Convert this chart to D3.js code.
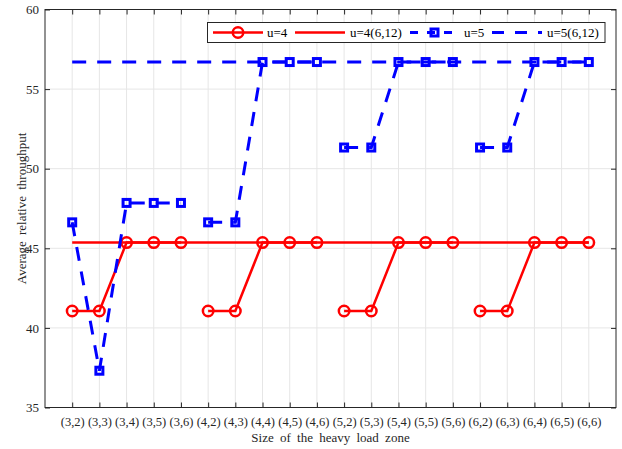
<!DOCTYPE html>
<html>
<head>
<meta charset="utf-8">
<script src="https://cdn.jsdelivr.net/npm/d3@7"></script>
<style>
  html, body { margin: 0; padding: 0; background: #fff; }
  svg { display: block; font-family: "Liberation Serif", "Times New Roman", serif; }
</style>
</head>
<body>
<svg id="chart" width="622" height="449"></svg>
<script>
// Zone sizes on the x axis
const categories = ["(3,2)","(3,3)","(3,4)","(3,5)","(3,6)",
                    "(4,2)","(4,3)","(4,4)","(4,5)","(4,6)",
                    "(5,2)","(5,3)","(5,4)","(5,5)","(5,6)",
                    "(6,2)","(6,3)","(6,4)","(6,5)","(6,6)"];

// Average relative throughput per series
const u4 = [41.06, 41.06, 45.36, 45.36, 45.36,
            41.06, 41.06, 45.36, 45.36, 45.36,
            41.06, 41.06, 45.36, 45.36, 45.36,
            41.06, 41.06, 45.36, 45.36, 45.36];
const u4ref = [45.36, 45.36, 45.36, 45.36, 45.36,
               45.36, 45.36, 45.36, 45.36, 45.36,
               45.36, 45.36, 45.36, 45.36, 45.36,
               45.36, 45.36, 45.36, 45.36, 45.36];
const u5 = [46.63, 37.31, 47.85, 47.85, 47.85,
            46.63, 46.63, 56.70, 56.70, 56.70,
            51.33, 51.33, 56.70, 56.70, 56.70,
            51.33, 51.33, 56.70, 56.70, 56.70];
const u5ref = [56.70, 56.70, 56.70, 56.70, 56.70,
               56.70, 56.70, 56.70, 56.70, 56.70,
               56.70, 56.70, 56.70, 56.70, 56.70,
               56.70, 56.70, 56.70, 56.70, 56.70];

const yTicks = [35, 40, 45, 50, 55, 60];
const legendLabels = ["u=4", "u=4(6,12)", "u=5", "u=5(6,12)"];

const RED = "#ff0000", BLUE = "#0000ff", AX = "#262626", GRID = "#e6e6e6";
const DASH = "14,11";
const SERIF = "Liberation Serif, Times New Roman, serif";
const SQ = 7; // square marker side (before stroke)

const svg = d3.select("#chart");
const L = 45, R = 616, T = 9.5, B = 407.5;

const x = d3.scaleLinear().domain([0, categories.length + 1]).range([L, R]);
const y = d3.scaleLinear().domain([35, 60]).range([B, T]);
const xi = i => x(i + 1);

// grid
const grid = svg.append("g");
categories.forEach((c, i) => {
  grid.append("line").attr("x1", xi(i)).attr("x2", xi(i)).attr("y1", T).attr("y2", B)
    .attr("stroke", GRID).attr("stroke-width", 1);
});
yTicks.forEach(v => {
  grid.append("line").attr("x1", L).attr("x2", R).attr("y1", y(v)).attr("y2", y(v))
    .attr("stroke", GRID).attr("stroke-width", 1);
});

// axes (ticks inward, mirrored on the opposite sides)
const xPoints = d3.scalePoint().domain(categories).range([xi(0), xi(categories.length - 1)]);
const gx = svg.append("g").attr("transform", `translate(0,${B})`)
  .call(d3.axisBottom(xPoints).tickSize(-5).tickPadding(10));
gx.select(".domain").remove();
gx.attr("font-family", SERIF);
gx.selectAll("line").attr("stroke", AX);
gx.selectAll("text").attr("font-size", 12.5).attr("fill", AX);

const gxt = svg.append("g").attr("transform", `translate(0,${T})`)
  .call(d3.axisTop(xPoints).tickSize(-5).tickFormat(""));
gxt.select(".domain").remove();
gxt.selectAll("line").attr("stroke", AX);

const gy = svg.append("g").attr("transform", `translate(${L},0)`)
  .call(d3.axisLeft(y).tickValues(yTicks).tickSize(-5).tickPadding(6));
gy.select(".domain").remove();
gy.attr("font-family", SERIF);
gy.selectAll("line").attr("stroke", AX);
gy.selectAll("text").attr("font-size", 13).attr("fill", AX);

const gyr = svg.append("g").attr("transform", `translate(${R},0)`)
  .call(d3.axisRight(y).tickValues(yTicks).tickSize(-5).tickFormat(""));
gyr.select(".domain").remove();
gyr.selectAll("line").attr("stroke", AX);

// frame
svg.append("rect").attr("x", L).attr("y", T).attr("width", R - L).attr("height", B - T)
  .attr("fill", "none").attr("stroke", AX).attr("stroke-width", 1);

// axis titles
svg.append("text").attr("x", (L + R) / 2).attr("y", 442).attr("text-anchor", "middle")
  .attr("font-size", 13).attr("fill", AX).style("word-spacing", "3px")
  .text("Size of the heavy load zone");
svg.append("text").attr("transform", `translate(26,${(T + B) / 2}) rotate(-90)`)
  .attr("text-anchor", "middle").attr("font-size", 13).attr("fill", AX)
  .style("word-spacing", "3px").text("Average relative throughput");

// series
const line = d3.line().x(d => xi(d.i)).y(d => y(d.v));
const plot = svg.append("g");

// split a series into per-row groups (first number of the zone size)
function segments(vals) {
  const pts = vals.map((v, i) => ({ i, v, g: categories[i][1] }));
  return Array.from(d3.group(pts, d => d.g).values());
}
function allPoints(vals) { return vals.map((v, i) => ({ i, v })); }

// u=4
segments(u4).forEach(seg => {
  plot.append("path").attr("d", line(seg)).attr("fill", "none")
    .attr("stroke", RED).attr("stroke-width", 2.5);
});
plot.selectAll(".c4").data(allPoints(u4)).join("circle")
  .attr("cx", d => xi(d.i)).attr("cy", d => y(d.v)).attr("r", 5.25)
  .attr("fill", "none").attr("stroke", RED).attr("stroke-width", 2.5);

// u=4(6,12)
plot.append("path").attr("d", line(allPoints(u4ref))).attr("fill", "none")
  .attr("stroke", RED).attr("stroke-width", 2.5);

// u=5
segments(u5).forEach(seg => {
  plot.append("path").attr("d", line(seg)).attr("fill", "none")
    .attr("stroke", BLUE).attr("stroke-width", 3).attr("stroke-dasharray", DASH);
});
plot.selectAll(".s5").data(allPoints(u5)).join("rect")
  .attr("x", d => xi(d.i) - SQ / 2).attr("y", d => y(d.v) - SQ / 2)
  .attr("width", SQ).attr("height", SQ)
  .attr("fill", "none").attr("stroke", BLUE).attr("stroke-width", 3);

// u=5(6,12)
plot.append("path").attr("d", line(allPoints(u5ref))).attr("fill", "none")
  .attr("stroke", BLUE).attr("stroke-width", 3).attr("stroke-dasharray", DASH);

// legend
const lg = svg.append("g");
lg.append("rect").attr("x", 207.5).attr("y", 22.5).attr("width", 397.5).attr("height", 20)
  .attr("fill", "#fff").attr("stroke", AX).attr("stroke-width", 1);
const ly = 32.5;
const items = [
  { x1: 213, x2: 263, tx: 267, color: RED, dash: null, w: 2.5, marker: "circle" },
  { x1: 295, x2: 345, tx: 350, color: RED, dash: null, w: 2.5, marker: null },
  { x1: 410, x2: 459, tx: 464, color: BLUE, dash: "8,9", w: 3, marker: "square" },
  { x1: 492, x2: 542, tx: 547, color: BLUE, dash: "12,11", w: 3, marker: null }
];
items.forEach((it, k) => {
  lg.append("line").attr("x1", it.x1).attr("x2", it.x2).attr("y1", ly).attr("y2", ly)
    .attr("stroke", it.color).attr("stroke-width", it.w)
    .attr("stroke-dasharray", it.dash);
  const mx = (it.x1 + it.x2) / 2;
  if (it.marker === "circle") {
    lg.append("circle").attr("cx", mx).attr("cy", ly).attr("r", 5.25)
      .attr("fill", "none").attr("stroke", it.color).attr("stroke-width", 2.5);
  } else if (it.marker === "square") {
    lg.append("rect").attr("x", mx - SQ / 2).attr("y", ly - SQ / 2).attr("width", SQ).attr("height", SQ)
      .attr("fill", "none").attr("stroke", it.color).attr("stroke-width", 3);
  }
  lg.append("text").attr("x", it.tx).attr("y", ly + 4.5).attr("font-size", 13)
    .attr("fill", "#000").text(legendLabels[k]);
});
</script>
</body>
</html>
